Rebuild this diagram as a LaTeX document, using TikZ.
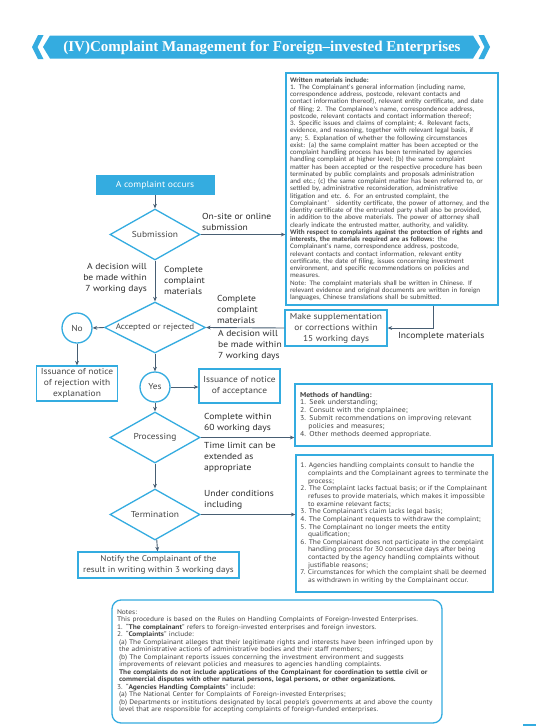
\documentclass[tikz,border=0pt]{standalone}
\usepackage{fontspec}
\setmainfont{PT Sans}[FakeStretch=1.1]
\newfontfamily\titlefont{Liberation Serif}
\newfontfamily\smallfont{Carlito}[FakeStretch=1.04]
\usetikzlibrary{shapes.geometric,arrows.meta}
\definecolor{cblue}{RGB}{52,172,224}
\definecolor{carrow}{RGB}{72,94,115}
\definecolor{ctext}{RGB}{70,70,70}
\definecolor{clbl}{RGB}{45,45,45}
\newcommand\myind{\hphantom{1.\ }}
\tikzset{
  boxs/.style={draw=cblue, line width=1.3pt, align=center, inner sep=0pt,
    font=\fontsize{8.6}{11}\selectfont, text=ctext},
  dia/.style={diamond, draw=cblue, line width=1.3pt, inner sep=-6pt,
    font=\fontsize{8.6}{11}\selectfont, text=ctext},
  circ/.style={circle, draw=cblue, line width=1.3pt, minimum size=30pt, inner sep=0pt,
    font=\fontsize{8.6}{11}\selectfont, text=ctext},
  arr/.style={draw=carrow, line width=0.9pt, -{Stealth[length=4.5pt,width=3.8pt]}},
  lbl/.style={inner sep=0pt, text=clbl, font=\fontsize{8.7}{11}\selectfont},
  smalltxt/.style={draw=cblue, line width=1.3pt, align=left, inner sep=0pt, text=ctext}
}
\begin{document}
\begin{tikzpicture}[x=1pt,y=-1pt]
\useasboundingbox (0,0) rectangle (537,726);
\fill[white] (0,0) rectangle (537,726);
% banner
\fill[cblue] (32,47) -- (38,35) -- (43.5,35) -- (37.5,47) -- (43.5,59) -- (38,59) -- cycle;
\fill[cblue] (43,47) -- (50,35.5) -- (473,35.5) -- (480,47) -- (473,58.5) -- (50,58.5) -- cycle;
\fill[cblue] (490,47) -- (484,35) -- (478.5,35) -- (484.5,47) -- (478.5,59) -- (484,59) -- cycle;
\node[text=white, font=\titlefont\bfseries\fontsize{15}{17}\selectfont, inner sep=0pt] (title) at (262,47.5) {(IV)Complaint Management for Foreign–invested Enterprises};

% top right box
\node[smalltxt, font=\smallfont\fontsize{6.9}{7.25}\selectfont, minimum width=212pt, minimum height=232pt, text width=204pt] (topbox) at (392,189) {%
\textbf{Written materials include:}\\
1. The Complainant's general information (including name,\\
correspondence address, postcode, relevant contacts and\\
contact information thereof), relevant entity certificate, and date\\
of filing; 2. The Complainee's name, correspondence address,\\
postcode, relevant contacts and contact information thereof;\\
3. Specific issues and claims of complaint; 4. Relevant facts,\\
evidence, and reasoning, together with relevant legal basis, if\\
any; 5. Explanation of whether the following circumstances\\
exist: (a) the same complaint matter has been accepted or the\\
complaint handling process has been terminated by agencies\\
handling complaint at higher level; (b) the same complaint\\
matter has been accepted or the respective procedure has been\\
terminated by public complaints and proposals administration\\
and etc.; (c) the same complaint matter has been referred to, or\\
settled by, administrative reconsideration, administrative\\
litigation and etc. 6. For an entrusted complaint, the\\
Complainant’\ \ \ sidentity certificate, the power of attorney, and the\\
identity certificate of the entrusted party shall also be provided,\\
in addition to the above materials. The power of attorney shall\\
clearly indicate the entrusted matter, authority, and validity.\\
\textbf{With respect to complaints against the protection of rights and}\\
\textbf{interests, the materials required are as follows:} the\\
Complainant's name, correspondence address, postcode,\\
relevant contacts and contact information, relevant entity\\
certificate, the date of filing, issues concerning investment\\
environment, and specific recommendations on policies and\\
measures.\\
Note: The complaint materials shall be written in Chinese. If\\
relevant evidence and original documents are written in foreign\\
languages, Chinese translations shall be submitted.};

% flowchart
\node[fill=cblue, text=white, minimum width=119pt, minimum height=20pt, inner sep=0pt, font=\fontsize{8.8}{11}\selectfont] (occur) at (155,185) {A complaint occurs};
\node[dia, minimum width=90pt, minimum height=51pt] (sub) at (155,234.5) {Submission};
\node[dia, minimum width=101pt, minimum height=51pt, inner sep=-12pt, font=\fontsize{8.2}{11}\selectfont] (acc) at (155,327.5) {Accepted or rejected};
\node[circ] (no) at (77,328) {No};
\node[boxs, minimum width=81pt, minimum height=35pt] (rej) at (77,383.5) {Issuance of notice\\of rejection with\\explanation};
\node[circ] (yes) at (155,387) {Yes};
\node[boxs, minimum width=81pt, minimum height=34pt] (accbox) at (239.5,386) {Issuance of notice\\of acceptance};
\node[boxs, minimum width=102pt, minimum height=36pt] (supp) at (336,328) {Make supplementation\\or corrections within\\15 working days};
\node[dia, minimum width=90pt, minimum height=51pt] (proc) at (155,437.5) {Processing};
\node[dia, minimum width=90pt, minimum height=51pt] (term) at (155,514.5) {Termination};
\node[boxs, minimum width=161pt, minimum height=26pt, font=\fontsize{8.3}{11}\selectfont] (notify) at (158.5,565) {Notify the Complainant of the\\result in writing within 3 working days};

\node[smalltxt, font=\fontsize{7.1}{7.9}\selectfont, minimum width=197pt, minimum height=62pt, text width=187pt] (methods) at (393.5,415) {%
\textbf{Methods of handling:}\\
1. Seek understanding;\\
2. Consult with the complainee;\\
3. Submit recommendations on improving relevant\\
\myind policies and measures;\\
4. Other methods deemed appropriate.};

\node[smalltxt, font=\fontsize{6.8}{7.65}\selectfont, minimum width=197pt, minimum height=137pt] (termbox) at (394.5,523.5) {%
1. Agencies handling complaints consult to handle the\\
\myind complaints and the Complainant agrees to terminate the\\
\myind process;\\
2. The Complaint lacks factual basis; or if the Complainant\\
\myind refuses to provide materials, which makes it impossible\\
\myind to examine relevant facts;\\
3. The Complainant’s claim lacks legal basis;\\
4. The Complainant requests to withdraw the complaint;\\
5. The Complainant no longer meets the entity\\
\myind qualification;\\
6. The Complainant does not participate in the complaint\\
\myind handling process for 30 consecutive days after being\\
\myind contacted by the agency handling complaints without\\
\myind justifiable reasons;\\
7. Circumstances for which the complaint shall be deemed\\
\myind as withdrawn in writing by the Complainant occur.};

\node[smalltxt, rounded corners=9pt, font=\fontsize{6.75}{7.5}\selectfont, minimum width=330pt, minimum height=123pt, text width=320pt] (notes) at (277,661.5) {%
Notes:\\
This procedure is based on the Rules on Handling Complaints of Foreign-Invested Enterprises.\\
1. “\textbf{The complainant}” refers to foreign-invested enterprises and foreign investors.\\
2. “\textbf{Complaints}” include:\\
\hspace*{2pt}(a) The Complainant alleges that their legitimate rights and interests have been infringed upon by\\
\hspace*{2pt}the administrative actions of administrative bodies and their staff members;\\
\hspace*{2pt}(b) The Complainant reports issues concerning the investment environment and suggests\\
\hspace*{2pt}improvements of relevant policies and measures to agencies handling complaints.\\
\hspace*{2pt}\textbf{The complaints do not include applications of the Complainant for coordination to settle civil or}\\
\hspace*{2pt}\textbf{commercial disputes with other natural persons, legal persons, or other organizations.}\\
3. “\textbf{Agencies Handling Complaints}” include:\\
\hspace*{2pt}(a) The National Center for Complaints of Foreign-invested Enterprises;\\
\hspace*{2pt}(b) Departments or institutions designated by local people’s governments at and above the county\\
\hspace*{2pt}level that are responsible for accepting complaints of foreign-funded enterprises.};

% labels
\node[lbl, align=left, anchor=west] (l1) at (202,221.5) {On-site or online\\submission};
\node[lbl, align=right, anchor=east] (l2) at (147,278) {A decision will\\be made within\\7 working days};
\node[lbl, align=left, anchor=west] (l3) at (164,280) {Complete\\complaint\\materials};
\node[lbl, align=left, anchor=west] (l4) at (217,309) {Complete\\complaint\\materials};
\node[lbl, align=left, anchor=west] (l5) at (218,345) {A decision will\\be made within\\7 working days};
\node[lbl, align=left, anchor=west] (l6) at (398,336) {Incomplete materials};
\node[lbl, align=left, anchor=west] (l7) at (204,423) {Complete within\\60 working days};
\node[lbl, align=left, anchor=west] (l8) at (204,457) {Time limit can be\\extended as\\appropriate};
\node[lbl, align=left, anchor=west] (l9) at (204,499.5) {Under conditions\\including};

% connectors
\draw[arr] (occur) -- (sub);
\draw[arr] (sub.east) -- (sub.east -| topbox.west);
\draw[arr] (sub) -- (acc);
\draw[arr] (acc.west) -- (no.east);
\draw[arr] (no) -- (rej);
\draw[arr] (acc) -- (yes);
\draw[arr] (yes.east) -- (yes.east -| accbox.west);
\draw[arr] ([xshift=41pt]topbox.south) |- (supp.east);
\draw[arr] (supp.west) -- (acc.east);
\draw[arr] (yes) -- (proc);
\draw[arr] (proc.east) -- (proc.east -| methods.west);
\draw[arr] (proc) -- (term);
\draw[arr] (term.east) -- (term.east -| termbox.west);
\draw[arr] (term) -- (notify);

\draw[cblue, line width=1.5pt] (523,725) -- (536,725);
\end{tikzpicture}
\end{document}
